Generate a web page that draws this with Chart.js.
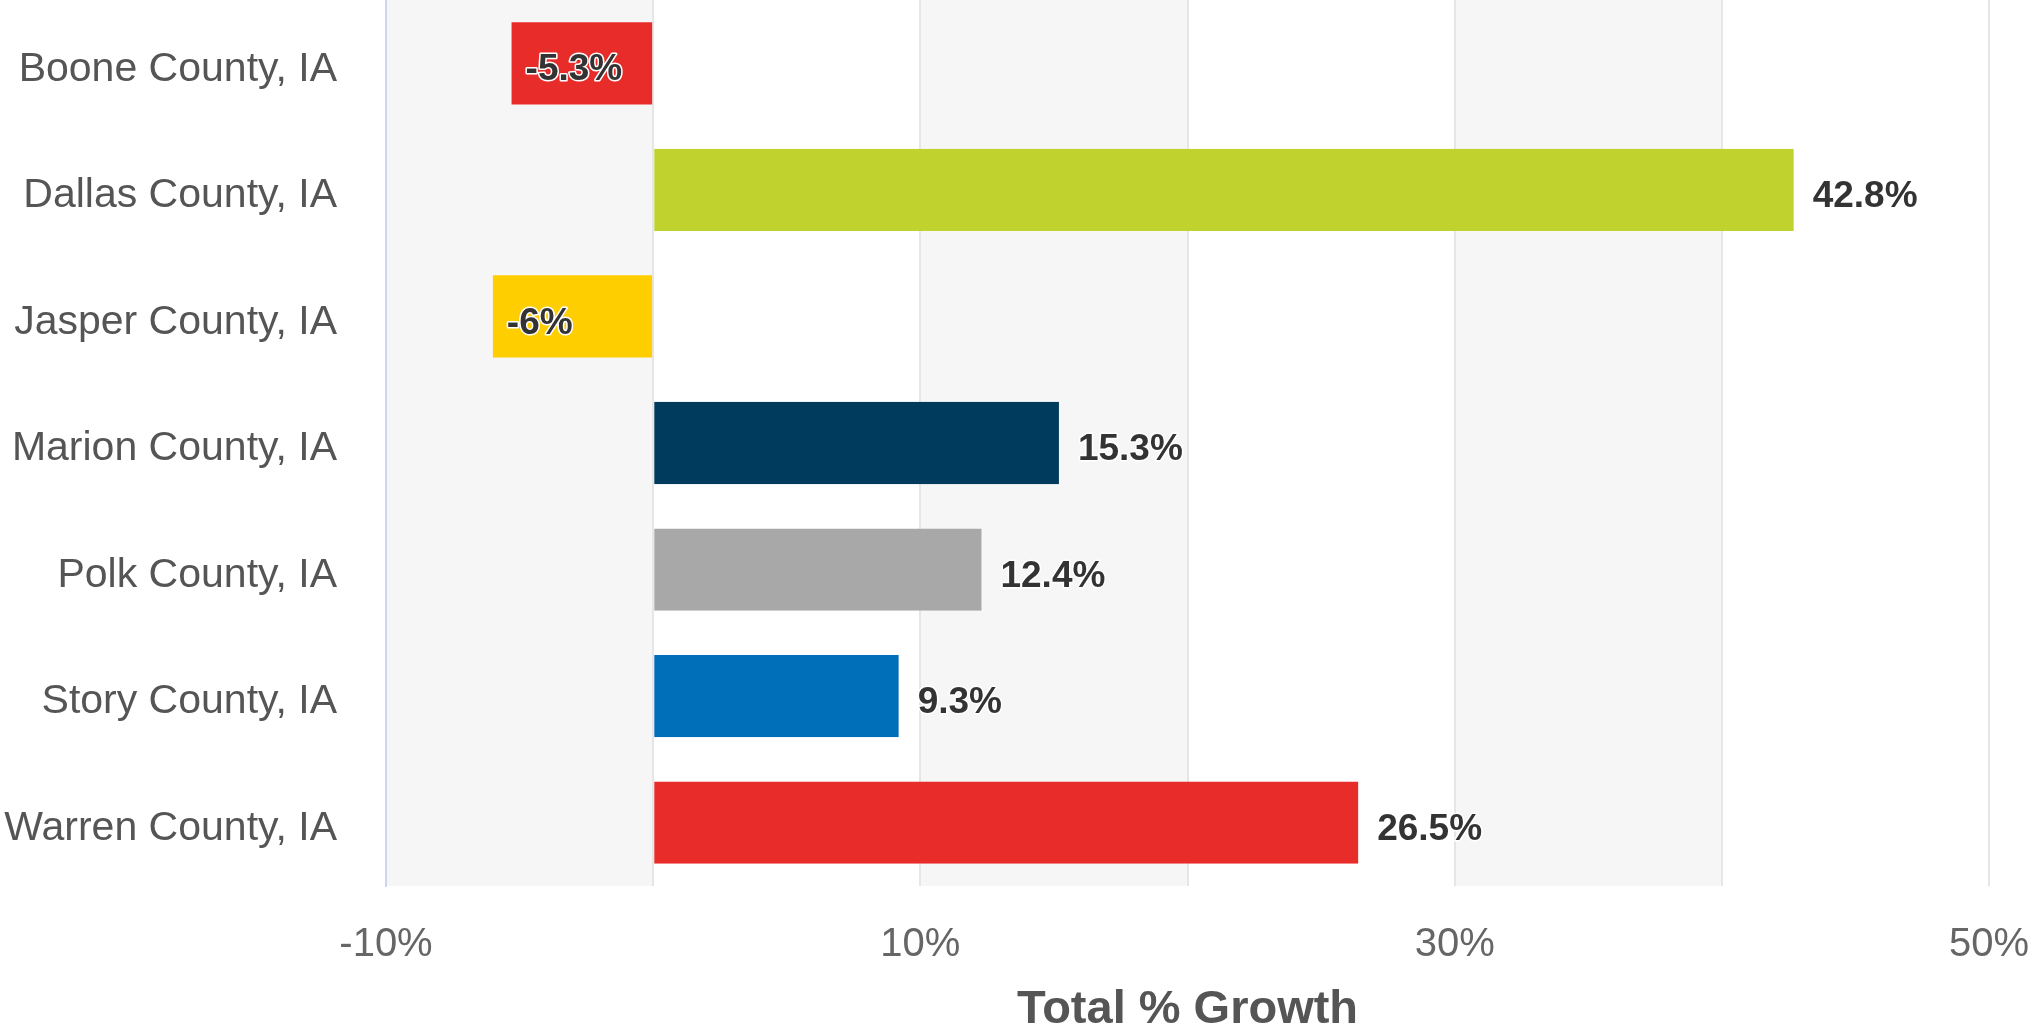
<!DOCTYPE html>
<html>
<head>
<meta charset="utf-8">
<script src="https://cdn.jsdelivr.net/npm/chart.js@4/dist/chart.umd.min.js"></script>
<style>
  html, body { margin: 0; padding: 0; background: #ffffff; overflow: hidden; }
  #wrap { width: 2029px; height: 1030px; position: relative; }
</style>
</head>
<body>
<div id="wrap"><canvas id="c"></canvas></div>
<script>
const categories = ['Boone County, IA', 'Dallas County, IA', 'Jasper County, IA', 'Marion County, IA', 'Polk County, IA', 'Story County, IA', 'Warren County, IA'];
const growthValues = [-5.3, 42.8, -6, 15.3, 12.4, 9.3, 26.5];
const barColors = ['#e82c2a', '#c0d22d', '#ffce00', '#003a5c', '#a8a8a8', '#006fba', '#e82c2a'];
const xMin = -10, xMax = 50, xStep = 10;
const labeledTicks = [-10, 10, 30, 50];
const bandRanges = [[-10, 0], [10, 20], [30, 40]];
const axisTitle = 'Total % Growth';

const FONT = "'Liberation Sans', Arial, Helvetica, sans-serif";

const bandsUnderGrid = {
  id: 'bandsUnder',
  beforeDraw(chart) {
    const { ctx, chartArea, scales } = chart;
    ctx.save();
    ctx.fillStyle = '#f6f6f6';
    bandRanges.forEach(([a, b]) => {
      const x1 = scales.x.getPixelForValue(a);
      const x2 = scales.x.getPixelForValue(b);
      ctx.fillRect(x1, chartArea.top, x2 - x1, chartArea.bottom - chartArea.top);
    });
    ctx.restore();
  }
};

const labelsPlugin = {
  id: 'valueLabels',
  afterDatasetsDraw(chart) {
    const { ctx } = chart;
    const meta = chart.getDatasetMeta(0);
    ctx.save();
    ctx.font = 'bold 37px ' + FONT;
    ctx.textAlign = 'left';
    ctx.textBaseline = 'middle';
    ctx.lineJoin = 'round';
    meta.data.forEach((bar, i) => {
      const v = growthValues[i];
      const text = v + '%';
      const x = v >= 0 ? bar.x + 16 : bar.x + 14;
      const y = bar.y + 7;
      ctx.strokeStyle = '#ffffff';
      ctx.lineWidth = 3;
      ctx.strokeText(text, x, y);
      ctx.fillStyle = '#333333';
      ctx.fillText(text, x, y);
    });
    ctx.restore();
  }
};

new Chart(document.getElementById('c'), {
  type: 'bar',
  data: {
    labels: categories,
    datasets: [{
      data: growthValues,
      backgroundColor: barColors,
      borderColor: 'rgba(255,255,255,0)',
      borderWidth: (c) => growthValues[c.dataIndex] > 0 ? { top: 0, bottom: 0, left: 0, right: 3 } : 0,
      borderSkipped: false,
      categoryPercentage: 1,
      barPercentage: 0.65
    }]
  },
  options: {
    indexAxis: 'y',
    responsive: true,
    maintainAspectRatio: false,
    animation: false,
    layout: { padding: { left: 0, right: 40, top: 0, bottom: 0 } },
    plugins: {
      legend: { display: false },
      tooltip: { enabled: false }
    },
    scales: {
      x: {
        type: 'linear',
        min: xMin,
        max: xMax,
        ticks: {
          stepSize: xStep,
          padding: 35,
          color: '#666666',
          font: { family: FONT, size: 40 },
          maxRotation: 0,
          autoSkip: false,
          callback: (v) => labeledTicks.includes(v) ? v + '%' : ''
        },
        grid: { color: '#e6e6e6', lineWidth: 2, drawTicks: false },
        border: { display: false },
        title: {
          display: true,
          text: axisTitle,
          color: '#555555',
          font: { family: FONT, size: 47, weight: 'bold', lineHeight: 0.83 },
          padding: { top: 0, bottom: 0 }
        },
        afterFit(scale) {
          scale.height = 144;
          scale.paddingLeft = 0;
          scale.paddingRight = 0;
        }
      },
      y: {
        type: 'category',
        ticks: {
          padding: 49,
          labelOffset: 6,
          color: '#555555',
          font: { family: FONT, size: 41 }
        },
        grid: { display: false, drawTicks: false },
        border: { display: true, color: '#ccd6eb', width: 2 },
        afterFit(scale) {
          scale.width = 386;
          scale.paddingTop = 0;
          scale.paddingBottom = 0;
        }
      }
    }
  },
  plugins: [bandsUnderGrid, labelsPlugin]
});
</script>
</body>
</html>
